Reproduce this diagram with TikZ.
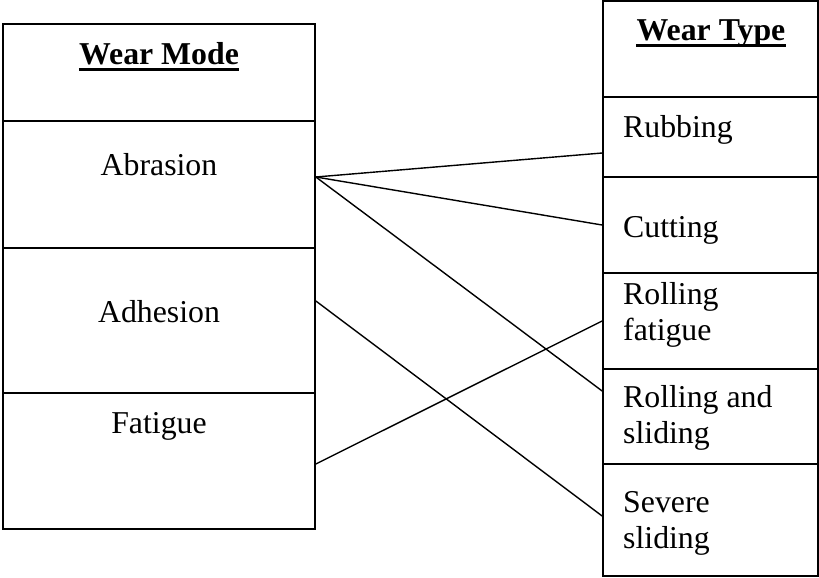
\documentclass[tikz,border=0pt]{standalone}
\usepackage{fontspec}
\setmainfont{Liberation Serif}
\begin{document}
\begin{tikzpicture}[x=1pt,y=-1pt,
  cell/.style={draw, line width=1.7pt, rectangle, inner sep=0pt},
  lcell/.style={cell, minimum width=312pt},
  rcell/.style={cell, minimum width=215pt},
  txt/.style={inner sep=0pt, font=\fontsize{31.8}{36}\selectfont},
  hd/.style={txt, font=\fontsize{31.8}{36}\selectfont\bfseries},
  conn/.style={line width=1.4pt},
  uline/.style={line width=3pt}]
\useasboundingbox (0,0) rectangle (819,578);
% left column
\node[lcell, minimum height=97pt]  (lhead) at (159,72.5) {};
\node[lcell, minimum height=127pt] (labr)  at (159,184.5) {};
\node[lcell, minimum height=145pt] (ladh)  at (159,320.5) {};
\node[lcell, minimum height=136pt] (lfat)  at (159,461) {};
% right column
\node[rcell, minimum height=96pt]  (rhead) at (710.5,49) {};
\node[rcell, minimum height=80pt]  (rrub)  at (710.5,137) {};
\node[rcell, minimum height=96pt]  (rcut)  at (710.5,225) {};
\node[rcell, minimum height=96pt]  (rrf)   at (710.5,321) {};
\node[rcell, minimum height=95pt]  (rrs)   at (710.5,416.5) {};
\node[rcell, minimum height=112pt] (rsev)  at (710.5,520) {};
% texts
\node[hd, anchor=base] (twm) at (159,64) {Wear Mode};
\draw[uline] ([yshift=-5.5pt]twm.base west) -- ([yshift=-5.5pt]twm.base east);
\node[txt, anchor=base] (tabr) at (159,175) {Abrasion};
\node[txt, anchor=base] (tadh) at (159,322) {Adhesion};
\node[txt, anchor=base] (tfat) at (159,433) {Fatigue};
\node[hd, anchor=base] (twt) at (711,41) {Wear Type};
\draw[uline] ([yshift=-5pt]twt.base west) -- ([yshift=-5pt]twt.base east);
\node[txt, anchor=base west] (trub) at (623,137) {Rubbing};
\node[txt, anchor=base west] (tcut) at (623,237) {Cutting};
\node[txt, anchor=base west] (trf1) at (623,304) {Rolling};
\node[txt, anchor=base west] (trf2) at (623,340) {fatigue};
\node[txt, anchor=base west] (trs1) at (623,407) {Rolling and};
\node[txt, anchor=base west] (trs2) at (623,443) {sliding};
\node[txt, anchor=base west] (tsv1) at (623,512) {Severe};
\node[txt, anchor=base west] (tsv2) at (623,548) {sliding};
% connector end points
\coordinate (pabr) at (labr.east |- 0,177);
\coordinate (padh) at (ladh.east |- 0,301);
\coordinate (pfat) at (lfat.east |- 0,464);
\coordinate (qrub) at (rrub.west |- 0,153);
\coordinate (qcut) at (rcut.west |- 0,225);
\coordinate (qrf)  at (rrf.west |- 0,321);
\coordinate (qrs)  at (rrs.west |- 0,391);
\coordinate (qsev) at (rsev.west |- 0,516);
\draw[conn] (pabr) -- (qrub);
\draw[conn] (pabr) -- (qcut);
\draw[conn] (pabr) -- (qrs);
\draw[conn] (padh) -- (qsev);
\draw[conn] (pfat) -- (qrf);
\end{tikzpicture}
\end{document}
